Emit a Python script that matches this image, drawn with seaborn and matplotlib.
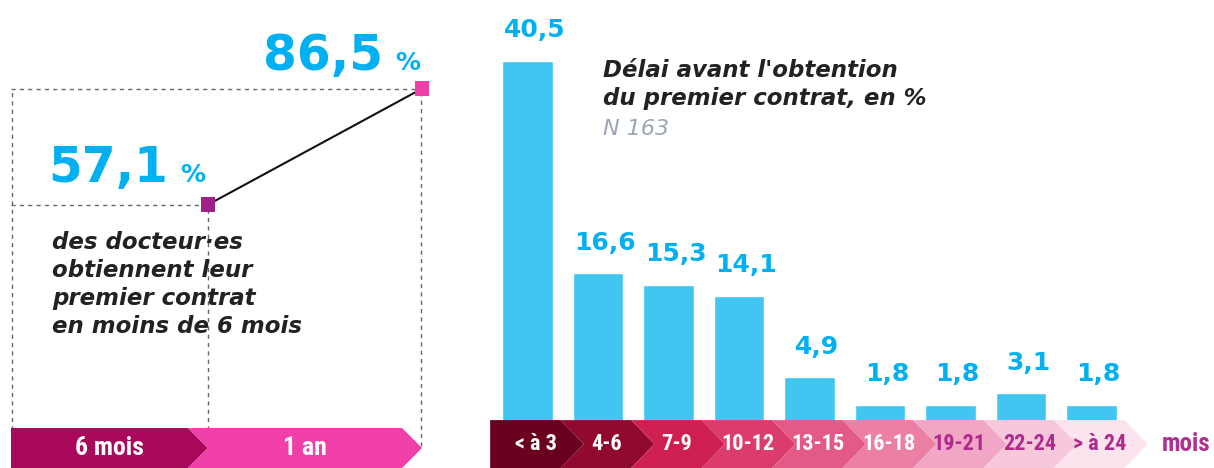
import numpy as np
import pandas as pd
import matplotlib.pyplot as plt
import seaborn as sns
from matplotlib.patches import Polygon

# ─────────────────────────────────────────────
# DONNÉES
# ─────────────────────────────────────────────
periods = ["6 mois", "1 an"]
cumul_pct = [57.1, 86.5]
period_colors = ["#a8095a", "#f03fa8"]
marker_colors = ["#a0208a", "#f03fa8"]

delays = ["< à 3", "4-6", "7-9", "10-12", "13-15", "16-18", "19-21", "22-24", "> à 24"]
delay_pct = [40.5, 16.6, 15.3, 14.1, 4.9, 1.8, 1.8, 3.1, 1.8]
delay_colors = ["#6a0020", "#900a2e", "#cf1f50", "#dc3c6c", "#e35a87",
                "#ec7fa5", "#f2a6c6", "#f7c8db", "#fbe4ee"]
delay_text_colors = ["white"] * 6 + ["#b02a8e"] * 3

CYAN = "#00b0f0"
BAR = "#41c6f2"
DARK = "#222222"

W, H = 1214, 468

sns.set_theme(style="white")
plt.rcParams["font.family"] = ["DejaVu Sans"]
COND = ["Roboto Condensed", "Roboto", "DejaVu Sans"]


def px_rect(x0, x1, y_top, y_bot):
    return [x0 / W, 1 - y_bot / H, (x1 - x0) / W, (y_bot - y_top) / H]


def chevron(ax, x_left, x_right, depth, y_top, y_bot, color, notch=True):
    mid = (y_top + y_bot) / 2
    pts = [(x_left, y_top), (x_right, y_top), (x_right + depth, mid),
           (x_right, y_bot), (x_left, y_bot)]
    if notch:
        pts.append((x_left + depth, mid))
    ax.add_patch(Polygon(pts, closed=True, facecolor=color, edgecolor="none",
                         clip_on=False))


def fmt(v):
    return f"{v:.1f}".replace(".", ",")


fig = plt.figure(figsize=(W / 100, H / 100), dpi=100)

# ─────────────────────────────────────────────
# PANNEAU GAUCHE : courbe cumulée
# ─────────────────────────────────────────────
axl = fig.add_axes(px_rect(11, 422, 0, 468))
y_scale = 3.946          # px par point de %
x_left = -0.92

xs = np.arange(len(periods))
df_l = pd.DataFrame({"x": xs, "pct": cumul_pct, "periode": periods})

# lignes pointillées de repère
dash = dict(color="#666666", lw=1, ls=(0, (3, 3)), zorder=1)
axl.hlines(cumul_pct[1], x_left, xs[1], **dash)
axl.hlines(cumul_pct[0], x_left, xs[0], **dash)
axl.vlines(x_left + 0.005, 0, cumul_pct[1], **dash)
axl.vlines(xs[0], 0, cumul_pct[0], **dash)
axl.vlines(xs[1] - 0.003, -4, cumul_pct[1], clip_on=False, **dash)

sns.lineplot(data=df_l, x="x", y="pct", color="#111111", lw=1.5, ax=axl, zorder=2)
sns.scatterplot(data=df_l, x="x", y="pct", hue="periode", palette=marker_colors,
                marker="s", s=110, linewidth=0, legend=False, ax=axl, zorder=3,
                clip_on=False)
axl.set_xlim(x_left, 1)
axl.set_ylim(-38 / y_scale, 430 / y_scale)
axl.axis("off")

# bandeau flèches
d_l = 0.093
band_top, band_bot = 0.5, -38 / y_scale
bounds = [x_left, -d_l, 1 - d_l]
for i, (lab, col) in enumerate(zip(periods, period_colors)):
    chevron(axl, bounds[i], bounds[i + 1], d_l, band_top, band_bot, col, notch=(i > 0))
    axl.text((bounds[i] + bounds[i + 1]) / 2 + d_l / 2, (band_top + band_bot) / 2, lab,
             ha="center", va="center", color="white", fontsize=18.5,
             fontweight="bold", family=COND)

# grands chiffres
fig.text(168 / W, 1 - 182 / H, fmt(cumul_pct[0]),
         ha="right", va="baseline", color=CYAN, fontsize=35, fontweight="bold")
fig.text(180 / W, 1 - 182 / H, "%", ha="left", va="baseline", color=CYAN,
         fontsize=18, fontweight="bold")
fig.text(383 / W, 1 - 70 / H, fmt(cumul_pct[1]),
         ha="right", va="baseline", color=CYAN, fontsize=35, fontweight="bold")
fig.text(395 / W, 1 - 70 / H, "%", ha="left", va="baseline", color=CYAN,
         fontsize=18, fontweight="bold")

# texte multi-ligne : la ligne de base ancrée est celle de la dernière ligne
fig.text(52 / W, 1 - 333 / H,
         "des docteur·es\nobtiennent leur\npremier contrat\nen moins de 6 mois",
         ha="left", va="baseline", color=DARK, fontsize=16.5, fontweight="bold",
         fontstyle="italic", linespacing=1.27)

# ─────────────────────────────────────────────
# PANNEAU DROIT : délai avant premier contrat
# ─────────────────────────────────────────────
axr = fig.add_axes(px_rect(490, 1214, 0, 468))
b_scale = 8.89           # px par point de %
df_r = pd.DataFrame({"delai": delays, "pct": delay_pct})
sns.barplot(data=df_r, x="delai", y="pct", order=delays, color=BAR,
            saturation=1, width=0.71, ax=axr)
xr_left = -0.532
axr.set_xlim(xr_left, (1214 - 527.5) / 70.5)
axr.set_ylim(-47 / b_scale, 421 / b_scale)
axr.axis("off")

for i, v in enumerate(delay_pct):
    axr.annotate(fmt(v), (i + 0.1, v), xytext=(0, 17),
                 textcoords="offset points", ha="center", va="baseline",
                 color=CYAN, fontsize=18, fontweight="bold")

d_r = 0.33
rb_top, rb_bot = 0.1, -47 / b_scale
for i, (lab, col, tc) in enumerate(zip(delays, delay_colors, delay_text_colors)):
    chevron(axr, i - 0.53, i + 0.47, d_r, rb_top, rb_bot, col, notch=(i > 0))
    axr.text(i + 0.12, (rb_top + rb_bot) / 2, lab, ha="center", va="center",
             color=tc, fontsize=16, fontweight="bold", family=COND)
axr.text(len(delays) - 0.53 + d_r + 0.2, (rb_top + rb_bot) / 2, "mois",
         ha="left", va="center", color="#b0308f", fontsize=18,
         fontweight="bold", family=COND)

fig.text(603 / W, 1 - 105 / H, "Délai avant l'obtention\ndu premier contrat, en %",
         ha="left", va="baseline", color=DARK, fontsize=16.5, fontweight="bold",
         fontstyle="italic", linespacing=1.27)
fig.text(603 / W, 1 - 135 / H, "N 163", ha="left", va="baseline",
         color="#9aa6b2", fontsize=16, fontstyle="italic")

fig.savefig("out.png", dpi=100)
